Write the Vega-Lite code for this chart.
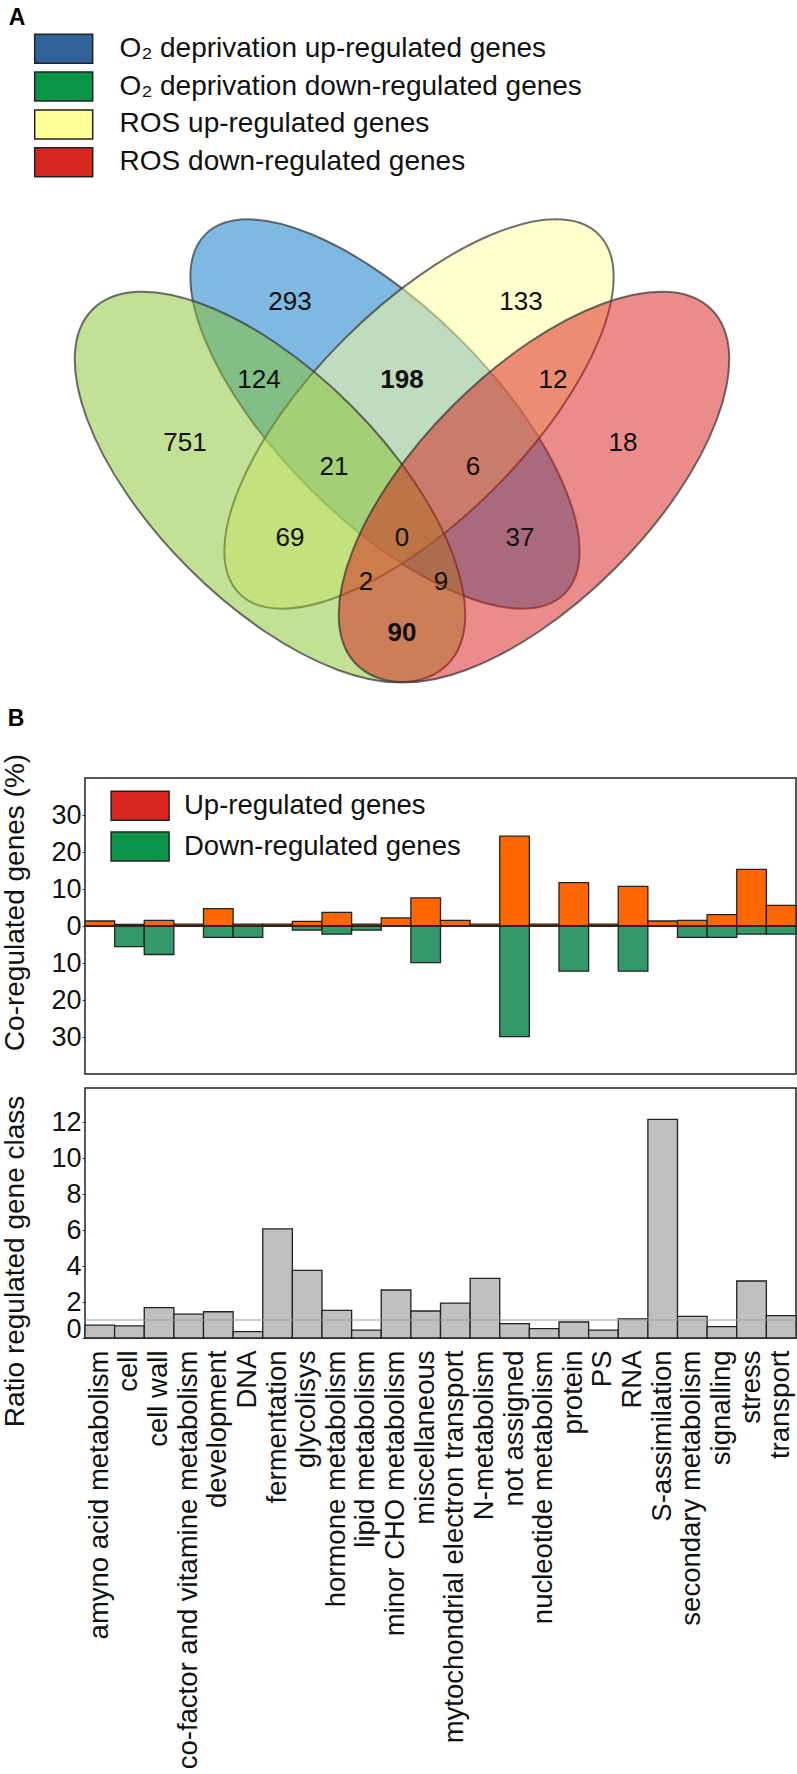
{
  "$schema": "https://vega.github.io/schema/vega-lite/v6.json",
  "background": "white",
  "padding": 0,
  "spacing": 14,
  "bounds": "flush",
  "resolve": {"scale": {"fill": "independent"}, "legend": {"fill": "independent"}},
  "config": {
    "font": "Liberation Sans",
    "view": {"stroke": "#222", "strokeWidth": 1.5},
    "axis": {"labelFont": "Liberation Sans", "titleFont": "Liberation Sans", "labelColor": "#111", "titleColor": "#111", "grid": false},
    "legend": {"labelFont": "Liberation Sans", "labelColor": "#111"}
  },
  "datasets": {
    "sets": [
      {"set": "O₂ deprivation up-regulated genes", "x": 382, "y": 414},
      {"set": "O₂ deprivation down-regulated genes", "x": 267, "y": 487},
      {"set": "ROS up-regulated genes", "x": 416, "y": 414},
      {"set": "ROS down-regulated genes", "x": 531, "y": 487}
    ],
    "regions": [
      {"region": "O2 down only", "count": 751, "coregulated": "no", "x": 182, "y": 443},
      {"region": "O2 up only", "count": 293, "coregulated": "no", "x": 287, "y": 302},
      {"region": "ROS up only", "count": 133, "coregulated": "no", "x": 518, "y": 302},
      {"region": "ROS down only", "count": 18, "coregulated": "no", "x": 620, "y": 443},
      {"region": "O2 down & O2 up", "count": 124, "coregulated": "no", "x": 256, "y": 380},
      {"region": "O2 up & ROS up", "count": 198, "coregulated": "yes", "x": 399, "y": 380},
      {"region": "ROS up & ROS down", "count": 12, "coregulated": "no", "x": 550, "y": 380},
      {"region": "O2 down & O2 up & ROS up", "count": 21, "coregulated": "no", "x": 331, "y": 467},
      {"region": "O2 up & ROS up & ROS down", "count": 6, "coregulated": "no", "x": 470, "y": 467},
      {"region": "O2 down & ROS up", "count": 69, "coregulated": "no", "x": 287, "y": 538},
      {"region": "all four", "count": 0, "coregulated": "no", "x": 399, "y": 538},
      {"region": "O2 up & ROS down", "count": 37, "coregulated": "no", "x": 517, "y": 538},
      {"region": "O2 down & ROS up & ROS down", "count": 2, "coregulated": "no", "x": 363, "y": 582},
      {"region": "O2 down & O2 up & ROS down", "count": 9, "coregulated": "no", "x": 438, "y": 582},
      {"region": "O2 down & ROS down", "count": 90, "coregulated": "yes", "x": 399, "y": 633}
    ],
    "panels": [
      {"panel": "A", "x": 14, "y": 18},
      {"panel": "B", "x": 13, "y": 719}
    ],
    "categories": [
      {"category": "amyno acid metabolism", "up": 1.35, "down": 0, "ratio": 0.72},
      {"category": "cell", "up": 0.45, "down": -5.6, "ratio": 0.67},
      {"category": "cell wall", "up": 1.5, "down": -7.7, "ratio": 1.69},
      {"category": "co-factor and vitamine metabolism", "up": 0.5, "down": 0, "ratio": 1.33},
      {"category": "development", "up": 4.7, "down": -3.1, "ratio": 1.46},
      {"category": "DNA", "up": 0.5, "down": -3.1, "ratio": 0.35},
      {"category": "fermentation", "up": 0.5, "down": 0, "ratio": 6.07},
      {"category": "glycolisys", "up": 1.25, "down": -1.1, "ratio": 3.76},
      {"category": "hormone metabolism", "up": 3.7, "down": -2.2, "ratio": 1.54},
      {"category": "lipid metabolism", "up": 0.5, "down": -1.1, "ratio": 0.44},
      {"category": "minor CHO metabolism", "up": 2.2, "down": 0, "ratio": 2.67},
      {"category": "miscellaneous", "up": 7.6, "down": -9.9, "ratio": 1.5},
      {"category": "mytochondrial electron transport", "up": 1.5, "down": 0, "ratio": 1.94},
      {"category": "N-metabolism", "up": 0.5, "down": 0, "ratio": 3.31},
      {"category": "not assigned", "up": 24.3, "down": -29.9, "ratio": 0.8},
      {"category": "nucleotide metabolism", "up": 0.5, "down": 0, "ratio": 0.52},
      {"category": "protein", "up": 11.7, "down": -12.2, "ratio": 0.89},
      {"category": "PS", "up": 0.5, "down": 0, "ratio": 0.44},
      {"category": "RNA", "up": 10.7, "down": -12.2, "ratio": 1.06},
      {"category": "S-assimilation", "up": 1.35, "down": 0, "ratio": 12.15},
      {"category": "secondary metabolism", "up": 1.5, "down": -3.1, "ratio": 1.2},
      {"category": "signalling", "up": 3.05, "down": -3.1, "ratio": 0.63},
      {"category": "stress", "up": 15.3, "down": -2.2, "ratio": 3.17},
      {"category": "transport", "up": 5.6, "down": -2.2, "ratio": 1.24}
    ]
  },
  "vconcat": [
    {
      "width": 711,
      "height": 764,
      "view": {"stroke": null},
      "layer": [
        {
          "data": {"name": "sets"},
          "transform": [{"filter": "datum.set === 'O₂ deprivation up-regulated genes'"}],
          "mark": {"type": "point", "shape": "M -1 0 A 1 0.417 0 1 0 1 0 A 1 0.417 0 1 0 -1 0 Z", "size": 258064, "angle": 45, "filled": true, "opacity": 1, "fill": "#0073C3", "fillOpacity": 0.5, "stroke": "#333", "strokeOpacity": 0.7, "strokeWidth": 2},
          "encoding": {
            "x": {"field": "x", "type": "quantitative", "scale": {"domain": [82, 793], "nice": false, "zero": false}, "axis": null},
            "y": {"field": "y", "type": "quantitative", "scale": {"domain": [764, 0], "nice": false, "zero": false}, "axis": null}
          }
        },
        {
          "data": {"name": "sets"},
          "transform": [{"filter": "datum.set === 'ROS up-regulated genes'"}],
          "mark": {"type": "point", "shape": "M -1 0 A 1 0.417 0 1 0 1 0 A 1 0.417 0 1 0 -1 0 Z", "size": 258064, "angle": -45, "filled": true, "opacity": 1, "fill": "#FFFF9B", "fillOpacity": 0.5, "stroke": "#333", "strokeOpacity": 0.7, "strokeWidth": 2},
          "encoding": {
            "x": {"field": "x", "type": "quantitative", "scale": {"domain": [82, 793], "nice": false, "zero": false}, "axis": null},
            "y": {"field": "y", "type": "quantitative", "scale": {"domain": [764, 0], "nice": false, "zero": false}, "axis": null}
          }
        },
        {
          "data": {"name": "sets"},
          "transform": [{"filter": "datum.set === 'O₂ deprivation down-regulated genes'"}],
          "mark": {"type": "point", "shape": "M -1 0 A 1 0.458 0 1 0 1 0 A 1 0.458 0 1 0 -1 0 Z", "size": 252004, "angle": 45, "filled": true, "opacity": 1, "fill": "#87C32D", "fillOpacity": 0.5, "stroke": "#333", "strokeOpacity": 0.7, "strokeWidth": 2},
          "encoding": {
            "x": {"field": "x", "type": "quantitative", "scale": {"domain": [82, 793], "nice": false, "zero": false}, "axis": null},
            "y": {"field": "y", "type": "quantitative", "scale": {"domain": [764, 0], "nice": false, "zero": false}, "axis": null}
          }
        },
        {
          "data": {"name": "sets"},
          "transform": [{"filter": "datum.set === 'ROS down-regulated genes'"}],
          "mark": {"type": "point", "shape": "M -1 0 A 1 0.458 0 1 0 1 0 A 1 0.458 0 1 0 -1 0 Z", "size": 252004, "angle": -45, "filled": true, "opacity": 1, "fill": "#D71919", "fillOpacity": 0.5, "stroke": "#333", "strokeOpacity": 0.7, "strokeWidth": 2},
          "encoding": {
            "x": {"field": "x", "type": "quantitative", "scale": {"domain": [82, 793], "nice": false, "zero": false}, "axis": null},
            "y": {"field": "y", "type": "quantitative", "scale": {"domain": [764, 0], "nice": false, "zero": false}, "axis": null}
          }
        },
        {
          "data": {"name": "regions"},
          "transform": [{"filter": "datum.coregulated === 'no'"}],
          "mark": {"type": "text", "fontSize": 26, "color": "#111", "align": "center", "baseline": "middle"},
          "encoding": {
            "x": {"field": "x", "type": "quantitative"},
            "y": {"field": "y", "type": "quantitative"},
            "text": {"field": "count", "type": "quantitative"}
          }
        },
        {
          "data": {"name": "regions"},
          "transform": [{"filter": "datum.coregulated === 'yes'"}],
          "mark": {"type": "text", "fontSize": 26, "fontWeight": "bold", "color": "#111", "align": "center", "baseline": "middle"},
          "encoding": {
            "x": {"field": "x", "type": "quantitative"},
            "y": {"field": "y", "type": "quantitative"},
            "text": {"field": "count", "type": "quantitative"}
          }
        },
        {
          "data": {"name": "panels"},
          "mark": {"type": "text", "fontSize": 23, "fontWeight": "bold", "color": "#000", "align": "center", "baseline": "middle"},
          "encoding": {
            "x": {"field": "x", "type": "quantitative"},
            "y": {"field": "y", "type": "quantitative"},
            "text": {"field": "panel", "type": "nominal"}
          }
        },
        {
          "data": {"name": "sets"},
          "transform": [{"filter": "false"}],
          "mark": {"type": "point", "filled": true, "opacity": 1},
          "encoding": {
            "fill": {
              "field": "set", "type": "nominal",
              "scale": {
                "domain": ["O₂ deprivation up-regulated genes", "O₂ deprivation down-regulated genes", "ROS up-regulated genes", "ROS down-regulated genes"],
                "range": ["#316199", "#0A9448", "#FFFF99", "#D7261E"]
              },
              "legend": {
                "orient": "none", "legendX": -36.8, "legendY": 33.3, "title": null, "padding": 0,
                "symbolType": "M -2 -1 L 2 -1 L 2 1 L -2 1 Z", "symbolSize": 841,
                "symbolStrokeColor": "#222", "symbolStrokeWidth": 1.5, "symbolOpacity": 1,
                "labelFontSize": 28, "labelOffset": 40.4, "rowPadding": 2.8, "labelLimit": 700
              }
            }
          }
        }
      ]
    },
    {
      "width": 711,
      "height": 296,
      "layer": [
        {
          "data": {"name": "categories"},
          "mark": {"type": "bar", "fill": "#FF6600", "stroke": "#222", "strokeWidth": 1.3},
          "encoding": {
            "x": {"field": "category", "type": "nominal", "sort": null, "scale": {"paddingInner": 0, "paddingOuter": 0}, "axis": null},
            "y": {"field": "up", "type": "quantitative", "scale": {"domain": [-40, 40], "nice": false},
              "axis": {"title": "Co-regulated genes (%)", "values": [-30, -20, -10, 0, 10, 20, 30], "labelExpr": "abs(datum.value)", "labelOverlap": false, "labelFontSize": 27, "titleFontSize": 28, "titleFontWeight": "normal", "domain": false, "tickSize": 3, "tickColor": "#333", "labelPadding": 1, "titlePadding": 21.5, "titleY": 124}}
          }
        },
        {
          "data": {"name": "categories"},
          "mark": {"type": "bar", "fill": "#349968", "stroke": "#222", "strokeWidth": 1.3},
          "encoding": {
            "x": {"field": "category", "type": "nominal", "sort": null, "scale": {"paddingInner": 0, "paddingOuter": 0}, "axis": null},
            "y": {"field": "down", "type": "quantitative",
              "axis": {"title": "Co-regulated genes (%)", "values": [-30, -20, -10, 0, 10, 20, 30], "labelExpr": "abs(datum.value)", "labelOverlap": false, "labelFontSize": 27, "titleFontSize": 28, "titleFontWeight": "normal", "domain": false, "tickSize": 3, "tickColor": "#333", "labelPadding": 1, "titlePadding": 21.5, "titleY": 124}}
          }
        },
        {
          "data": {"values": [{}]},
          "mark": {"type": "rule", "color": "#3d1f0f", "strokeWidth": 1.5},
          "encoding": {"y": {"datum": 0}}
        },
        {
          "data": {"values": [{"direction": "Up-regulated genes"}, {"direction": "Down-regulated genes"}]},
          "transform": [{"filter": "false"}],
          "mark": {"type": "point", "filled": true, "opacity": 1},
          "encoding": {
            "fill": {
              "field": "direction", "type": "nominal",
              "scale": {"domain": ["Up-regulated genes", "Down-regulated genes"], "range": ["#D7261E", "#0A9448"]},
              "legend": {
                "orient": "none", "legendX": 39.6, "legendY": 12.3, "title": null, "padding": 0,
                "symbolType": "M -2 -1 L 2 -1 L 2 1 L -2 1 Z", "symbolSize": 841,
                "symbolStrokeColor": "#222", "symbolStrokeWidth": 1.5, "symbolOpacity": 1,
                "labelFontSize": 27.5, "labelOffset": 28.4, "rowPadding": 5.8, "labelLimit": 700
              }
            }
          }
        }
      ]
    },
    {
      "width": 711,
      "height": 250,
      "layer": [
        {
          "data": {"name": "categories"},
          "mark": {"type": "bar", "fill": "#C0C0C0", "stroke": "#222", "strokeWidth": 1.3},
          "encoding": {
            "x": {"field": "category", "type": "nominal", "sort": null, "scale": {"paddingInner": 0, "paddingOuter": 0},
              "axis": {"title": null, "labelAngle": -90, "labelFontSize": 27.5, "labelPadding": 12, "ticks": false, "domain": false, "labelLimit": 700}},
            "y": {"field": "ratio", "type": "quantitative", "scale": {"domain": [0, 13.9], "nice": false},
              "axis": {"title": "Ratio regulated gene class", "values": [0, 2, 4, 6, 8, 10, 12], "labelOverlap": false, "labelFlush": true, "labelFlushOffset": 5, "labelFontSize": 27, "titleFontSize": 28, "titleFontWeight": "normal", "domain": false, "tickSize": 3, "tickColor": "#333", "labelPadding": 1, "titlePadding": 21.5, "titleY": 173}}
          }
        },
        {
          "data": {"values": [{}]},
          "mark": {"type": "rule", "color": "#999", "strokeWidth": 1.2},
          "encoding": {"y": {"datum": 1}}
        }
      ]
    }
  ]
}
